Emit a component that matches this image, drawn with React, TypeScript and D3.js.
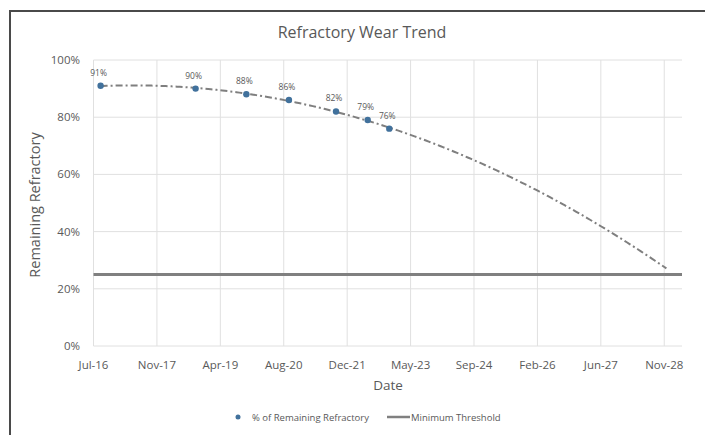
import React from "react";
import * as d3 from "d3";

const W = 705;
const H = 435;

// Date axis: Excel-style major unit of 500 days
const axisStart = new Date(2016, 6, 7);
const tickStepDays = 500;
const tickCount = 10;
const axisSpanDays = 4640;

// Measured refractory remaining
const sampleDates = [
  "2016-09-01",
  "2018-09-20",
  "2019-10-25",
  "2020-09-25",
  "2021-10-01",
  "2022-06-08",
  "2022-11-25",
];
const remaining = [0.91, 0.9, 0.88, 0.86, 0.82, 0.79, 0.76];

const yTicks = [0, 0.2, 0.4, 0.6, 0.8, 1];
const minimumThreshold = 0.25;
const forecastEnd = "2028-11-18";

const DAY = 86400000;
const addDays = (d: Date, n: number) => new Date(d.getTime() + n * DAY);
const parse = (s: string) => {
  const [y, m, d] = s.split("-").map(Number);
  return new Date(y, m - 1, d);
};

// Second-order polynomial least-squares fit (like an Excel polynomial trendline)
function polyFit2(xs: number[], ys: number[]) {
  const S = [0, 0, 0, 0, 0];
  const T = [0, 0, 0];
  xs.forEach((x, i) => {
    for (let k = 0; k < 5; k++) S[k] += Math.pow(x, k);
    for (let k = 0; k < 3; k++) T[k] += Math.pow(x, k) * ys[i];
  });
  const A = [
    [S[0], S[1], S[2], T[0]],
    [S[1], S[2], S[3], T[1]],
    [S[2], S[3], S[4], T[2]],
  ];
  for (let c = 0; c < 3; c++) {
    let p = c;
    for (let r = c + 1; r < 3; r++) if (Math.abs(A[r][c]) > Math.abs(A[p][c])) p = r;
    [A[c], A[p]] = [A[p], A[c]];
    for (let r = 0; r < 3; r++) {
      if (r === c) continue;
      const f = A[r][c] / A[c][c];
      for (let k = c; k < 4; k++) A[r][k] -= f * A[c][k];
    }
  }
  const coef = [A[0][3] / A[0][0], A[1][3] / A[1][1], A[2][3] / A[2][2]];
  return (x: number) => coef[0] + coef[1] * x + coef[2] * x * x;
}

const FONT = "'Open Sans', 'Noto Sans', sans-serif";
const TEXT = "#595959";

export default function App() {
  const left = 93.5;
  const right = 682;
  const top = 60;
  const bottom = 346;

  const x = d3
    .scaleTime()
    .domain([axisStart, addDays(axisStart, axisSpanDays)])
    .range([left, right]);
  const y = d3.scaleLinear().domain([0, 1]).range([bottom, top]);

  const xTicks = d3.range(tickCount).map((k) => addDays(axisStart, k * tickStepDays));
  const fmtDate = d3.timeFormat("%b-%y");
  const fmtPct = d3.format(".0%");

  const dates = sampleDates.map(parse);
  const t0 = dates[0].getTime();
  const toYears = (d: Date) => (d.getTime() - t0) / (365.25 * DAY);
  const fit = polyFit2(dates.map(toYears), remaining);

  const endDate = parse(forecastEnd);
  const trendPts: [number, number][] = d3
    .range(0, 201)
    .map((i) => new Date(t0 + ((endDate.getTime() - t0) * i) / 200))
    .map((d) => [x(d), y(fit(toYears(d)))]);
  const trendPath = d3.line()(trendPts) || "";

  return (
    <svg
      width={W}
      height={H}
      style={{ position: "absolute", left: 0, top: 0, background: "#fff" }}
      fontFamily={FONT}
    >
      <rect x={0} y={0} width={W} height={H} fill="#fff" />
      <rect x={10} y={11} width={W + 20} height={H + 20} fill="none" stroke="#4a4a4a" strokeWidth={2} />

      <text x={362} y={38} textAnchor="middle" fontSize={16} fill={TEXT}>
        Refractory Wear Trend
      </text>

      {/* gridlines */}
      {yTicks.map((v) => (
        <line key={"h" + v} x1={left} x2={right} y1={y(v)} y2={y(v)} stroke="#e0e0e0" strokeWidth={1} />
      ))}
      {xTicks.map((d, i) => (
        <line key={"v" + i} x1={x(d)} x2={x(d)} y1={top} y2={bottom} stroke="#e0e0e0" strokeWidth={1} />
      ))}

      {/* y tick labels */}
      {yTicks.map((v) => (
        <text key={"yl" + v} x={80} y={y(v) + 4} textAnchor="end" fontSize={11.5} fill={TEXT}>
          {fmtPct(v)}
        </text>
      ))}
      {/* x tick labels */}
      {xTicks.map((d, i) => (
        <text key={"xl" + i} x={x(d)} y={369} textAnchor="middle" fontSize={11.5} fill={TEXT}>
          {fmtDate(d)}
        </text>
      ))}

      <text x={388} y={390} textAnchor="middle" fontSize={13.5} fill={TEXT}>
        Date
      </text>
      <text
        transform={`translate(40, ${(top + bottom) / 2 + 2}) rotate(-90)`}
        textAnchor="middle"
        fontSize={14.5}
        fill={TEXT}
      >
        Remaining Refractory
      </text>

      {/* minimum threshold */}
      <line
        x1={left}
        x2={right}
        y1={y(minimumThreshold)}
        y2={y(minimumThreshold)}
        stroke="#808080"
        strokeWidth={3}
      />

      {/* polynomial trend */}
      <path d={trendPath} fill="none" stroke="#7f7f7f" strokeWidth={2} strokeDasharray="7 3 2 3" />

      {/* measured points and labels */}
      {dates.map((d, i) => (
        <g key={"p" + i}>
          <circle cx={x(d)} cy={y(remaining[i])} r={3.2} fill="#41719c" />
          <text x={x(d) - 2} y={y(remaining[i]) - 10} textAnchor="middle" fontSize={8.5} fill={TEXT}>
            {fmtPct(remaining[i])}
          </text>
        </g>
      ))}

      {/* legend */}
      <circle cx={238} cy={417} r={2.5} fill="#41719c" />
      <text x={252} y={420.5} fontSize={9.5} fill={TEXT}>
        % of Remaining Refractory
      </text>
      <line x1={387} x2={410} y1={417} y2={417} stroke="#808080" strokeWidth={2.5} />
      <text x={411} y={420.5} fontSize={9.5} fill={TEXT}>
        Minimum Threshold
      </text>
    </svg>
  );
}
